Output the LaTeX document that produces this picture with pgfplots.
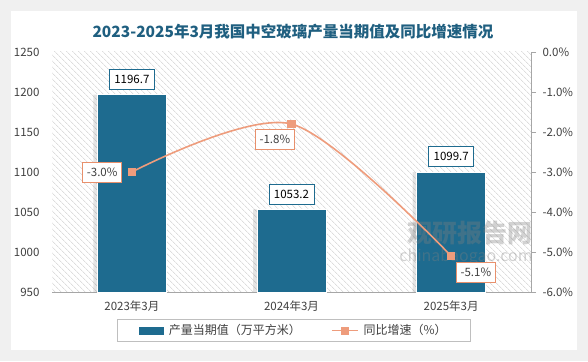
\documentclass[border=0pt]{standalone}
\usepackage{pgfplots}
\pgfplotsset{compat=1.18}
\usetikzlibrary{patterns.meta}
\usepackage{fontspec}
\setmainfont{Noto Sans CJK SC}
\definecolor{barblue}{HTML}{1E6B8F}
\definecolor{titleblue}{HTML}{1F5F80}
\definecolor{lineorange}{HTML}{EE9C7C}
\definecolor{lblorange}{HTML}{E8906C}
\definecolor{txtgray}{HTML}{404040}
\begin{document}
\begin{tikzpicture}[x=1pt,y=1pt]
\fill[gray!12] (0,0) rectangle (588,361);
\fill[white] (11,11) rectangle (577,350);
\node[font=\fontsize{15.5}{18}\selectfont\bfseries, text=titleblue] at (293,329) {2023-2025年3月我国中空玻璃产量当期值及同比增速情况};
\begin{axis}[
  at={(52pt,69pt)}, anchor=south west, scale only axis,
  width=479pt, height=240pt,
  xmin=-0.5, xmax=2.5, ymin=950, ymax=1250,
  ytick={950,1000,...,1250},
  xtick={0,1,2}, xticklabels={2023年3月,2024年3月,2025年3月},
  axis x line*=bottom, axis y line*=left,
  y axis line style={draw=none},
  x axis line style={draw=gray!70, line width=0.8pt},
  major tick length=0pt,
  /pgf/number format/1000 sep={},
  /pgf/number format/assume math mode=true,
  ticklabel style={font=\fontsize{11.5}{13}\selectfont, text=txtgray},
  yticklabel style={xshift=-9pt},
  xticklabel style={yshift=-5pt},
  axis background/.style={pattern={Lines[angle=-45,distance=4pt,line width=0.5pt]}, pattern color=gray!40},
  legend columns=2,
  legend style={at={(0.505,-0.16)}, anchor=center, draw=gray!50, line width=0.6pt,
    font=\fontsize{12}{14}\selectfont, text=txtgray, inner xsep=22pt, inner ysep=3pt,
    /tikz/every odd column/.append style={column sep=3pt},
    /tikz/every even column/.append style={column sep=28pt}},
  clip=false,
]
\addplot[ybar, bar width=71pt, bar shift=-3pt, fill=black, opacity=0.10, draw=none, forget plot]
  coordinates {(0,1196.7) (1,1053.2) (2,1099.7)};
\addplot[ybar, bar width=69pt, bar shift=0pt, fill=barblue, draw=white, line width=0.8pt,
  legend image code/.code={\fill[barblue] (0pt,-3.5pt) rectangle (24pt,3.5pt);}]
  coordinates {(0,1196.7) (1,1053.2) (2,1099.7)};
\addlegendentry{产量当期值（万平方米）}
\addplot[draw=none, mark=none, forget plot, point meta=y,
  nodes near coords={\pgfmathprintnumber[fixed,fixed zerofill,precision=1,1000 sep={}]{\pgfplotspointmeta}},
  every node near coord/.append style={anchor=south, yshift=5pt, draw=barblue, line width=0.8pt, fill=white, text=black,
    font=\fontsize{11.5}{13}\selectfont, inner xsep=5pt, minimum height=20pt}]
  coordinates {(0,1196.7) (1,1053.2) (2,1099.7)};
\addlegendimage{legend image code/.code={\draw[lineorange, line width=1.6pt] (0pt,0pt) -- (26pt,0pt); \fill[lineorange] (9.5pt,-3.5pt) rectangle ++(7pt,7pt);}}
\addlegendentry{同比增速（\%）}
\end{axis}
% watermark (over the bars)
\node[font=\fontsize{25}{28}\selectfont\bfseries, text=gray, opacity=0.35] at (470,128) {观研报告网};
\node[font=\fontsize{16}{18}\selectfont, text=gray, opacity=0.35] at (466,104) {chinabaogao.com};
\begin{axis}[
  at={(52pt,69pt)}, anchor=south west, scale only axis,
  width=479pt, height=240pt,
  xmin=-0.5, xmax=2.5, ymin=-6, ymax=0,
  ytick={-6,-5,...,0},
  axis y line*=right, axis x line=none,
  y axis line style={draw=gray!70, line width=0.8pt},
  ytick style={draw=gray!70, line width=0.8pt},
  tick align=outside, major tick length=5pt,
  yticklabel={\pgfmathprintnumber[fixed,fixed zerofill,precision=1]{\tick}\%},
  /pgf/number format/assume math mode=true,
  ticklabel style={font=\fontsize{11.5}{13}\selectfont, text=txtgray},
  yticklabel style={xshift=3pt},
  clip=false,
]
\addplot[smooth, color=lineorange, line width=1.6pt, mark=square*, mark size=3.5pt, mark options={fill=lineorange, draw=lineorange}]
  coordinates {(0,-3.0) (1,-1.8) (2,-5.1)};
\pgfplotsset{lbl/.style={draw=none, mark=none, point meta=y,
  nodes near coords={\pgfmathprintnumber[fixed,fixed zerofill,precision=1]{\pgfplotspointmeta}\%},
  every node near coord/.append style={draw=lblorange, line width=0.8pt, fill=white, text=txtgray,
    font=\fontsize{11.5}{13}\selectfont, inner xsep=4pt, minimum height=20pt, #1}}}
\addplot[lbl={anchor=east, xshift=-10pt}] coordinates {(0,-3.0)};
\addplot[lbl={anchor=north east, xshift=3pt, yshift=-5pt}] coordinates {(1,-1.8)};
\addplot[lbl={anchor=north west, xshift=5pt, yshift=-6pt}] coordinates {(2,-5.1)};
\end{axis}
\end{tikzpicture}
\end{document}
